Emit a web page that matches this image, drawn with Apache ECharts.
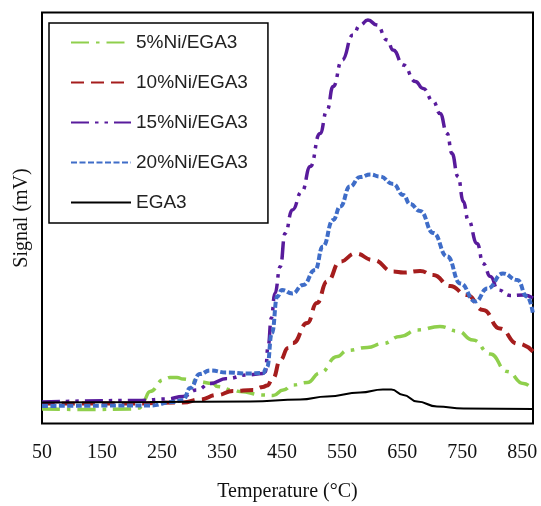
<!DOCTYPE html>
<html>
<head>
<meta charset="utf-8">
<script src="https://cdn.jsdelivr.net/npm/echarts@6/dist/echarts.min.js"></script>
<style>
  html, body { margin: 0; padding: 0; background: #fff; }
  #chart { width: 541px; height: 506px; }
</style>
</head>
<body>
<div id="chart"></div>
<script>
// temperatures (°C) and signal (arbitrary units)
const t_5 = [50, 130, 197, 213, 218, 230, 252, 263, 275, 285, 308, 335, 342, 368, 380, 418, 435, 452, 468, 492, 513, 542, 558, 592, 618, 647, 675, 713, 742, 768, 797, 825, 852, 868];
const s_5 = [14.5, 14, 14.5, 15.5, 22, 32, 43.5, 46, 46, 44.5, 42, 40, 37, 33.5, 32, 28.5, 28, 33.5, 38.5, 41, 50.5, 67, 73, 76, 80, 87, 93.5, 97, 92.5, 83.5, 69.5, 52, 40, 34];

const t_10 = [50, 200, 285, 313, 342, 368, 402, 418, 425, 435, 447, 460, 468, 492, 508, 525, 547, 572, 602, 635, 652, 680, 702, 730, 758, 785, 813, 842, 868];
const s_10 = [20, 20, 21, 24, 28.5, 32.5, 33.5, 36.5, 38, 45.5, 63.5, 75.5, 80.5, 100.5, 120.5, 142, 162, 170, 163.5, 152, 151, 152.5, 148.5, 137.5, 128.5, 113.5, 95, 80, 72];

const t_15 = [50, 208, 258, 285, 308, 330, 358, 392, 418, 422, 427, 432, 438, 447, 455, 467, 483, 497, 513, 525, 535, 550, 568, 580, 593, 608, 625, 635, 652, 672, 685, 702, 713, 725, 733, 743, 752, 760, 775, 785, 797, 810, 830, 852, 868];
const s_15 = [21.5, 23, 24.5, 27, 33.5, 40, 45, 48.5, 50, 51.5, 78.5, 105.5, 130, 157, 190, 213.5, 232, 257, 290, 313.5, 337, 363.5, 388.5, 398.5, 403.5, 398.5, 383.5, 373.5, 358.5, 342, 335, 322, 310, 290, 270, 247, 222, 203.5, 180, 160, 147, 133.5, 128, 128.5, 125.5];

const t_20 = [50, 230, 268, 285, 297, 313, 330, 358, 392, 418, 425, 433, 442, 450, 467, 485, 505, 518, 535, 547, 563, 580, 597, 613, 635, 652, 663, 680, 702, 725, 747, 772, 792, 818, 842, 858, 868];
const s_20 = [17.5, 18, 21.5, 23.5, 35.5, 49.5, 53, 51, 50, 50.5, 56.5, 90.5, 127, 133.5, 130, 138.5, 153.5, 177, 203.5, 217, 237, 246.5, 249, 247, 239.5, 228.5, 219.5, 212.5, 190.5, 167, 140, 122, 135, 150, 143.5, 127, 110];

const t_0 = [50, 230, 397, 480, 525, 580, 618, 632, 652, 675, 708, 752, 868];
const s_0 = [21, 21.5, 22, 24, 27, 31, 34, 34, 28.5, 22, 17, 15, 14.5];

const names = ['5%Ni/EGA3', '10%Ni/EGA3', '15%Ni/EGA3', '20%Ni/EGA3', 'EGA3'];

function zip(t, s) {
    return t.map((v, i) => [v, s[i]]);
}

function make_series(name, t, s, color, width, type) {
    return {
        name: name, type: 'line', data: zip(t, s),
        symbol: 'none', smooth: 0.5, smoothMonotone: 'x',
        lineStyle: {color: color, width: width, type: type, cap: 'butt'},
        itemStyle: {color: color},
        emphasis: {disabled: true}
    };
}

let series = [
    make_series(names[0], t_5, s_5, '#8FCF4C', 3.5, [18, 7, 3.5, 7]),
    make_series(names[1], t_10, s_10, '#A51D1D', 4, [13, 7]),
    make_series(names[2], t_15, s_15, '#581B9C', 3.5, [18, 6, 3.5, 6, 3.5, 6]),
    make_series(names[3], t_20, s_20, '#3F6DC8', 4, [6, 2.5]),
    make_series(names[4], t_0, s_0, '#000000', 2, 'solid'),
];

let option = {
    animation: false,
    backgroundColor: '#fff',
    grid: {
        left: 42, right: 8, top: 12.5, bottom: 82.5,
        outerBoundsMode: 'none',
        show: true, borderColor: '#000', borderWidth: 2
    },
    legend: {
        orient: 'vertical', left: 49, top: 23,
        data: names,
        itemWidth: 60, itemHeight: 14, itemGap: 21,
        padding: [10, 20, 11, 21],
        borderColor: '#000', borderWidth: 1.5,
        backgroundColor: '#fff',
        itemStyle: {opacity: 0},
        textStyle: {fontFamily: 'Liberation Sans', fontSize: 19, color: '#222'}
    },
    xAxis: {
        type: 'value', min: 50, max: 868, interval: 100,
        name: 'Temperature (°C)', nameLocation: 'middle', nameGap: 58,
        nameTextStyle: {fontFamily: 'Liberation Serif', fontSize: 20, color: '#111'},
        axisLine: {show: false}, axisTick: {show: false}, splitLine: {show: false},
        axisLabel: {
            margin: 19, showMaxLabel: false,
            fontFamily: 'Liberation Serif', fontSize: 20, color: '#111'
        }
    },
    yAxis: {
        type: 'value', min: 0, max: 411,
        name: 'Signal (mV)', nameLocation: 'middle', nameGap: 10,
        nameTextStyle: {fontFamily: 'Liberation Serif', fontSize: 20, color: '#111'},
        axisLine: {show: false}, axisTick: {show: false}, splitLine: {show: false},
        axisLabel: {show: false}
    },
    series: series
};

let my_chart = echarts.init(document.getElementById('chart'));
my_chart.setOption(option);
</script>
</body>
</html>
